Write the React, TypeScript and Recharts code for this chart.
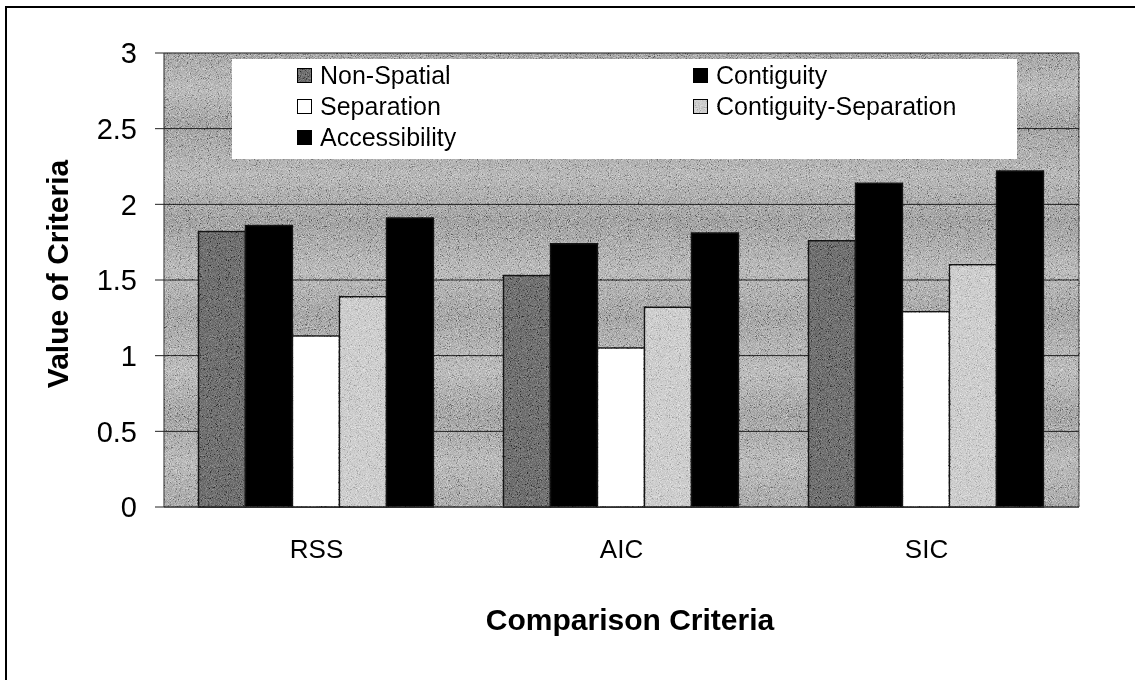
import { BarChart, Bar, XAxis, YAxis, CartesianGrid, Legend } from "recharts";

const categories = ["RSS", "AIC", "SIC"];
const nonSpatial = [1.82, 1.53, 1.76];
const contiguity = [1.86, 1.74, 2.14];
const separation = [1.13, 1.05, 1.29];
const contiguitySeparation = [1.39, 1.32, 1.6];
const accessibility = [1.91, 1.81, 2.22];
const yTicks = [0, 0.5, 1, 1.5, 2, 2.5, 3];

const series = [
  { key: "nonSpatial", name: "Non-Spatial", fill: "#5e5e5e" },
  { key: "contiguity", name: "Contiguity", fill: "#000000" },
  { key: "separation", name: "Separation", fill: "#ffffff" },
  { key: "contiguitySeparation", name: "Contiguity-Separation", fill: "#c2c2c2" },
  { key: "accessibility", name: "Accessibility", fill: "#000000" },
];

const data = categories.map((c, i) => ({
  name: c,
  nonSpatial: nonSpatial[i],
  contiguity: contiguity[i],
  separation: separation[i],
  contiguitySeparation: contiguitySeparation[i],
  accessibility: accessibility[i],
}));

const FONT = "'Liberation Sans', Arial, Helvetica, sans-serif";

// legend keeps the series order (row by row, two columns)
function LegendBox() {
  return (
    <div
      style={{
        background: "#fff",
        width: 785,
        height: 100,
        boxSizing: "border-box",
        paddingLeft: 65,
        paddingTop: 1,
        display: "grid",
        gridTemplateColumns: "396px 320px",
        gridAutoRows: "31px",
        fontFamily: FONT,
        fontSize: 25,
        color: "#000",
      }}
    >
      {series.map((s) => (
        <div key={s.key} style={{ display: "flex", alignItems: "center", whiteSpace: "nowrap" }}>
          <span
            style={{
              display: "inline-block",
              width: 13,
              height: 13,
              border: "1.5px solid #000",
              background: s.fill,
              marginRight: 8,
            }}
          />
          {s.name}
        </div>
      ))}
    </div>
  );
}

export default function App() {
  return (
    <div style={{ position: "absolute", left: 0, top: 0, width: 1135, height: 680, background: "#fff", overflow: "hidden" }}>
      <div
        style={{
          position: "absolute",
          left: 5,
          top: 6,
          width: 1200,
          height: 800,
          borderLeft: "2px solid #000",
          borderTop: "2px solid #000",
        }}
      />
      <BarChart
        width={1135}
        height={680}
        data={data}
        margin={{ top: 53, right: 55, bottom: 113, left: 30 }}
        barCategoryGap="11.3%"
        barGap={0}
        style={{ position: "absolute", left: 0, top: 0 }}
      >
        <defs>
          <linearGradient id="bands" x1="0" y1="53" x2="0" y2="507" gradientUnits="userSpaceOnUse">
            <stop offset="0" stopColor="#949494" />
            <stop offset="0.08" stopColor="#ababab" />
            <stop offset="0.16" stopColor="#909090" />
            <stop offset="0.27" stopColor="#a8a8a8" />
            <stop offset="0.37" stopColor="#8e8e8e" />
            <stop offset="0.48" stopColor="#aaaaaa" />
            <stop offset="0.58" stopColor="#929292" />
            <stop offset="0.7" stopColor="#adadad" />
            <stop offset="0.8" stopColor="#909090" />
            <stop offset="0.9" stopColor="#ababab" />
            <stop offset="1" stopColor="#969696" />
          </linearGradient>
        </defs>
        <CartesianGrid vertical={false} stroke="#111" strokeWidth={1} fill="url(#bands)" fillOpacity={1} />
        <XAxis
          dataKey="name"
          height={60}
          tickLine={false}
          tickSize={0}
          tickMargin={33}
          axisLine={{ stroke: "#333" }}
          tick={{ fill: "#000", fontSize: 26, fontFamily: FONT }}
        />
        <YAxis
          domain={[0, 3]}
          ticks={yTicks}
          width={134}
          tickSize={9}
          tickMargin={18}
          axisLine={{ stroke: "#222" }}
          tickLine={{ stroke: "#222" }}
          tick={{ fill: "#000", fontSize: 29, fontFamily: FONT }}
        />
        <YAxis
          yAxisId="frame"
          orientation="right"
          width={1}
          tick={false}
          tickLine={false}
          axisLine={{ stroke: "#222" }}
        />
        <Legend
          layout="vertical"
          align="center"
          verticalAlign="middle"
          content={LegendBox}
          wrapperStyle={{ left: 232, top: 59, width: 785, height: 100 }}
        />
        {series.map((s) => (
          <Bar
            key={s.key}
            dataKey={s.key}
            name={s.name}
            fill={s.fill}
            stroke="#111"
            strokeWidth={1.5}
            isAnimationActive={false}
          />
        ))}
      </BarChart>
      {/* print grain over the plot area; overlay blending leaves pure black and white untouched */}
      <svg
        width={916}
        height={454}
        style={{ position: "absolute", left: 164, top: 53, mixBlendMode: "overlay", pointerEvents: "none", opacity: 0.85 }}
      >
        <filter id="grain" x="0" y="0" width="100%" height="100%">
          <feTurbulence type="fractalNoise" baseFrequency="1.1" numOctaves="2" seed="5" />
          <feColorMatrix type="saturate" values="0" />
          <feComponentTransfer>
            <feFuncR type="linear" slope="3" intercept="-1" />
            <feFuncG type="linear" slope="3" intercept="-1" />
            <feFuncB type="linear" slope="3" intercept="-1" />
          </feComponentTransfer>
        </filter>
        <rect width="916" height="454" filter="url(#grain)" />
      </svg>
      <div
        style={{
          position: "absolute",
          left: 58,
          top: 274,
          transform: "translate(-50%, -50%) rotate(-90deg)",
          fontFamily: FONT,
          fontWeight: "bold",
          fontSize: 30,
          whiteSpace: "nowrap",
        }}
      >
        Value of Criteria
      </div>
      <div
        style={{
          position: "absolute",
          left: 630,
          top: 620,
          transform: "translate(-50%, -50%)",
          fontFamily: FONT,
          fontWeight: "bold",
          fontSize: 30,
          whiteSpace: "nowrap",
        }}
      >
        Comparison Criteria
      </div>
    </div>
  );
}
